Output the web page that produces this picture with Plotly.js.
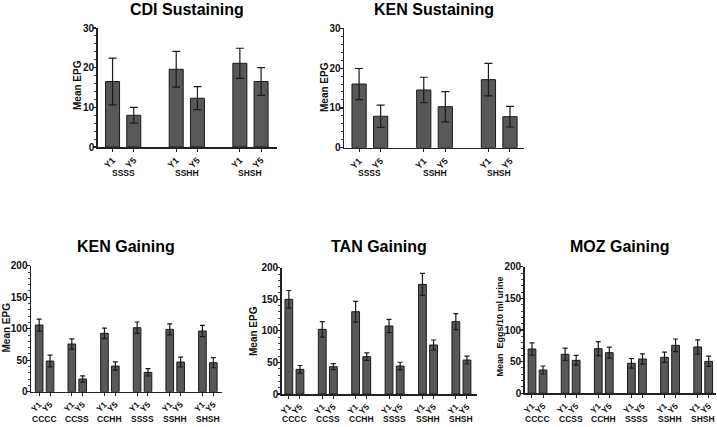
<!DOCTYPE html>
<html>
<head>
<meta charset="utf-8">
<script src="https://cdn.plot.ly/plotly-3.0.1.min.js"></script>
<style>html,body{margin:0;padding:0;background:#fff}#chart{width:717px;height:427px}</style>
</head>
<body>
<div id="chart"></div>
<script>
// ---- Data ----
const subLabels = ['Y1', 'Y5'];
const sustGroups = ['SSSS', 'SSHH', 'SHSH'];
const gainGroups = ['CCCC', 'CCSS', 'CCHH', 'SSSS', 'SSHH', 'SHSH'];

const cdiSustMean = [16.5, 8.0, 19.6, 12.3, 21.1, 16.5];
const cdiSustErr  = [5.9, 2.0, 4.5, 2.9, 3.8, 3.5];

const kenSustMean = [16.0, 7.9, 14.5, 10.3, 17.1, 7.8];
const kenSustErr  = [3.9, 2.8, 3.2, 3.8, 4.1, 2.6];

const kenGainMean = [105.8, 48.7, 75.7, 20.1, 92.6, 40.7, 101.6, 30.7, 98.9, 47.1, 96.3, 46.0];
const kenGainErr  = [9.5, 9.2, 8.0, 5.0, 8.2, 6.6, 9.0, 5.8, 8.7, 7.7, 9.0, 8.0];

const tanGainMean = [149.9, 39.0, 102.4, 43.3, 130.3, 59.1, 107.7, 44.3, 173.6, 77.6, 114.5, 53.8];
const tanGainErr  = [14.0, 6.1, 12.2, 4.8, 16.5, 6.0, 10.5, 6.0, 17.4, 7.9, 12.7, 6.3];

const mozGainMean = [70.0, 36.8, 61.6, 52.1, 70.5, 64.2, 47.4, 54.2, 56.8, 75.8, 73.2, 50.5];
const mozGainErr  = [9.8, 6.3, 9.7, 7.7, 11.0, 8.6, 7.6, 8.2, 8.1, 10.0, 11.3, 8.1];

const sustTicks = [0, 10, 20, 30];
const gainTicks = [0, 50, 100, 150, 200];

const titles = ['CDI Sustaining', 'KEN Sustaining', 'KEN Gaining', 'TAN Gaining', 'MOZ Gaining'];
const yTitles = ['Mean EPG', 'Mean EPG', 'Mean EPG', 'Mean EPG', 'Mean  Eggs/10 ml urine'];

// ---- Layout geometry (pixels) ----
const W = 717, H = 427;
const FONT = 'Liberation Sans, Arial, Helvetica, sans-serif';
const panels = [
  {groups: sustGroups, mean: cdiSustMean, err: cdiSustErr, ticks: sustTicks, px: [97.7, 277], py: [28, 147], xr: [-0.7, 7.75], minor: 2, bw: 0.66, cap: 4, xf: 9, yt: [77, 85], tt: [187, 9], gy: 173},
  {groups: sustGroups, mean: kenSustMean, err: kenSustErr, ticks: sustTicks, px: [344, 524], py: [28.3, 147.7], xr: [-0.7, 7.65], minor: 2, bw: 0.66, cap: 4, xf: 9, yt: [324, 87], tt: [434, 9], gy: 173},
  {groups: gainGroups, mean: kenGainMean, err: kenGainErr, ticks: gainTicks, px: [31, 222], py: [265.7, 391.7], xr: [-0.75, 16.8], minor: 10, bw: 0.7, cap: 2.5, xf: 8.5, yt: [5.5, 328], tt: [126.5, 246], gy: 419},
  {groups: gainGroups, mean: tanGainMean, err: tanGainErr, ticks: gainTicks, px: [281.7, 477], py: [267.7, 394], xr: [-0.64, 16.9], minor: 10, bw: 0.7, cap: 2.5, xf: 8.5, yt: [253, 331], tt: [379, 246], gy: 419},
  {groups: gainGroups, mean: mozGainMean, err: mozGainErr, ticks: gainTicks, px: [524.7, 716], py: [266.7, 393.3], xr: [-0.66, 16.66], minor: 10, bw: 0.7, cap: 2.5, xf: 8.5, yt: [499.5, 327], tt: [620, 246], gy: 419}
];

const data = [];
const layout = {
  width: W, height: H,
  margin: {l: 0, r: 0, t: 0, b: 0},
  paper_bgcolor: '#fff', plot_bgcolor: '#fff',
  showlegend: false,
  bargap: 0,
  annotations: []
};

const b = s => '<b>' + s + '</b>';

panels.forEach((p, k) => {
  const n = k + 1;
  const xs = [], tt = [];
  p.groups.forEach((g, i) => subLabels.forEach((s, j) => { xs.push(i * 3 + j); tt.push(b(s)); }));
  const xa = 'x' + (n === 1 ? '' : n), ya = 'y' + (n === 1 ? '' : n);
  data.push({
    type: 'bar', x: xs, y: p.mean, xaxis: xa, yaxis: ya,
    width: p.bw,
    marker: {color: '#585858', line: {color: '#1a1a1a', width: 1}},
    error_y: {type: 'data', array: p.err, visible: true, color: '#1a1a1a', thickness: 1.2, width: p.cap},
    hoverinfo: 'x+y'
  });
  const axName = n === 1 ? '' : n;
  layout['xaxis' + axName] = {
    domain: [p.px[0] / W, p.px[1] / W], anchor: ya, range: p.xr,
    tickmode: 'array', tickvals: xs, ticktext: tt, tickangle: -45,
    ticks: 'outside', ticklen: 3, tickwidth: 1, tickcolor: '#222',
    showline: true, linecolor: '#222', linewidth: 1.5,
    showgrid: false, zeroline: false, fixedrange: true,
    tickfont: {family: FONT, size: p.xf, color: '#111'}
  };
  layout['yaxis' + axName] = {
    domain: [1 - p.py[1] / H, 1 - p.py[0] / H], anchor: xa, range: [0, p.ticks[p.ticks.length - 1]],
    tickmode: 'array', tickvals: p.ticks, ticktext: p.ticks.map(v => b(v)),
    ticks: 'outside', ticklen: 3, tickwidth: 1.2, tickcolor: '#222',
    ticklabelstandoff: -3,
    minor: {dtick: p.minor, tick0: 0, ticks: 'outside', ticklen: 2, tickcolor: '#444', tickwidth: 1},
    showline: true, linecolor: '#222', linewidth: 1.5,
    showgrid: false, zeroline: false, fixedrange: true,
    tickfont: {family: FONT, size: 10, color: '#111'}
  };
  // group labels
  p.groups.forEach((g, i) => {
    layout.annotations.push({
      text: b(g), xref: xa, yref: 'paper', x: i * 3 + 0.5, y: 1 - p.gy / H,
      xanchor: 'center', yanchor: 'middle', showarrow: false,
      font: {family: FONT, size: 8.5, color: '#111'}
    });
  });
  // panel title
  layout.annotations.push({
    text: b(titles[k]), xref: 'paper', yref: 'paper', x: p.tt[0] / W, y: 1 - p.tt[1] / H,
    xanchor: 'center', yanchor: 'middle', showarrow: false,
    font: {family: FONT, size: 16, color: '#000'}
  });
  // y-axis title
  layout.annotations.push({
    text: b(yTitles[k]), xref: 'paper', yref: 'paper', x: p.yt[0] / W, y: 1 - p.yt[1] / H,
    xanchor: 'center', yanchor: 'middle', showarrow: false, textangle: -90,
    font: {family: FONT, size: k === 4 ? 9 : 10, color: '#111'}
  });
});

Plotly.newPlot('chart', data, layout, {displayModeBar: false, staticPlot: true});
</script>
</body>
</html>
